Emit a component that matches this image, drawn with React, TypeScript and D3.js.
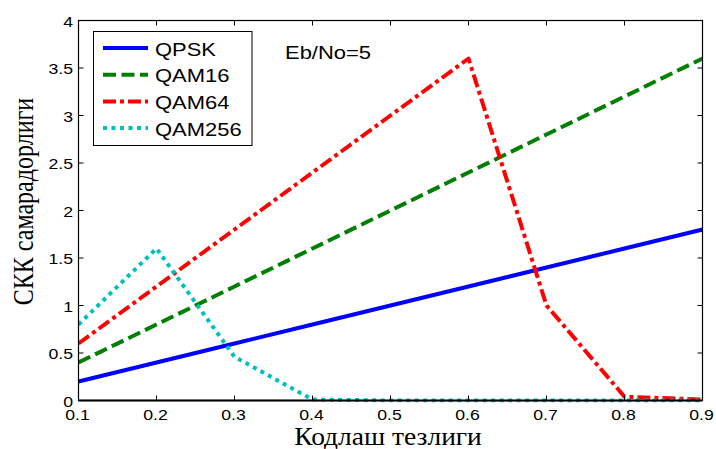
import React from "react";
import * as d3 from "d3";

const codeRates = [0.1, 0.2, 0.3, 0.4, 0.5, 0.6, 0.7, 0.8, 0.9];
const qpsk = [0.2, 0.4, 0.6, 0.8, 1.0, 1.2, 1.4, 1.6, 1.8];
const qam16 = [0.4, 0.8, 1.2, 1.6, 2.0, 2.4, 2.8, 3.2, 3.6];
const qam64 = [0.6, 1.2, 1.8, 2.4, 3.0, 3.6, 1.0, 0.04, 0.01];
const qam256 = [0.8, 1.6, 0.46, 0.01, 0.0, 0.0, 0.0, 0.0, 0.0];
const xTicks = [0.1, 0.2, 0.3, 0.4, 0.5, 0.6, 0.7, 0.8, 0.9];
const yTicks = [0, 0.5, 1, 1.5, 2, 2.5, 3, 3.5, 4];
const seriesNames = ["QPSK", "QAM16", "QAM64", "QAM256"];
const seriesColors = ["#0000ff", "#008000", "#ff0000", "#00bfbf"];
const seriesDash = ["none", "13 5.5", "13 4 4 4", "4 4.5"];
const seriesData = [qpsk, qam16, qam64, qam256];
const annotation = "Eb/No=5";
const xLabel = "Кодлаш тезлиги";
const yLabel = "СКК самарадорлиги";

export default function App() {
  const W = 716, H = 449;
  const left = 78.5, right = 702.5, top = 20.5, bottom = 400.5;
  const x = d3.scaleLinear().domain([0.1, 0.9]).range([left, right]);
  const y = d3.scaleLinear().domain([0, 4]).range([bottom, top]);
  const line = d3.line<number>().x((_, i) => x(codeRates[i])).y((d) => y(d));
  const sans = "Liberation Sans, Arial, sans-serif";
  const serif = "Liberation Serif, Times New Roman, serif";
  const tl = 5;
  const sx = 1.22;
  return (
    <svg width={W} height={H} style={{ position: "absolute", left: 0, top: 0, background: "#fff" }}>
      <rect x={0} y={0} width={W} height={H} fill="#fff" />
      <defs>
        <clipPath id="plotclip">
          <rect x={left} y={top - 2} width={right - left} height={bottom - top + 4} />
        </clipPath>
      </defs>
      <g clipPath="url(#plotclip)">
        {seriesData.map((s, i) => (
          <path key={i} d={line(s) || ""} fill="none" stroke={seriesColors[i]} strokeWidth={4}
            strokeDasharray={seriesDash[i]} strokeLinejoin="round" />
        ))}
      </g>
      <rect x={left} y={top} width={right - left} height={bottom - top} fill="none" stroke="#000" strokeWidth={1.2} />
      <line x1={left} x2={right} y1={bottom} y2={bottom} stroke="#000" strokeWidth={2} />
      {xTicks.map((t) => (
        <g key={"x" + t}>
          <line x1={x(t)} x2={x(t)} y1={bottom} y2={bottom - tl} stroke="#000" />
          <line x1={x(t)} x2={x(t)} y1={top} y2={top + tl} stroke="#000" />
          <text transform={`translate(${x(t) - 1},${bottom + 19.5}) scale(${sx},1)`} fontSize={14.5} fontFamily={sans} textAnchor="middle">{t}</text>
        </g>
      ))}
      {yTicks.map((t) => (
        <g key={"y" + t}>
          <line x1={left} x2={left + tl} y1={y(t)} y2={y(t)} stroke="#000" />
          <line x1={right} x2={right - tl} y1={y(t)} y2={y(t)} stroke="#000" />
          <text transform={`translate(${left - 5.5},${y(t) + 6}) scale(${sx},1)`} fontSize={14.5} fontFamily={sans} textAnchor="end">{t}</text>
        </g>
      ))}
      <text transform={`translate(388,445) scale(1.1,1)`} fontSize={25} fontFamily={serif} textAnchor="middle">{xLabel}</text>
      <text transform={`translate(33,201.5) scale(${sx},1) rotate(-90)`} fontSize={24} fontFamily={serif} textAnchor="middle">{yLabel}</text>
      <text transform={`translate(285,59) scale(${sx},1)`} fontSize={18} fontFamily={sans}>{annotation}</text>
      <rect x={93.5} y={31.5} width={158.5} height={114} fill="#fff" stroke="#000" strokeWidth={1} />
      {seriesNames.map((n, i) => {
        const ly = 48 + i * 26.7;
        return (
          <g key={n}>
            <line x1={103} x2={148} y1={ly} y2={ly} stroke={seriesColors[i]} strokeWidth={4} strokeDasharray={seriesDash[i]} />
            <text transform={`translate(155,${ly + 7.5}) scale(${sx},1)`} fontSize={18} fontFamily={sans}>{n}</text>
          </g>
        );
      })}
    </svg>
  );
}
